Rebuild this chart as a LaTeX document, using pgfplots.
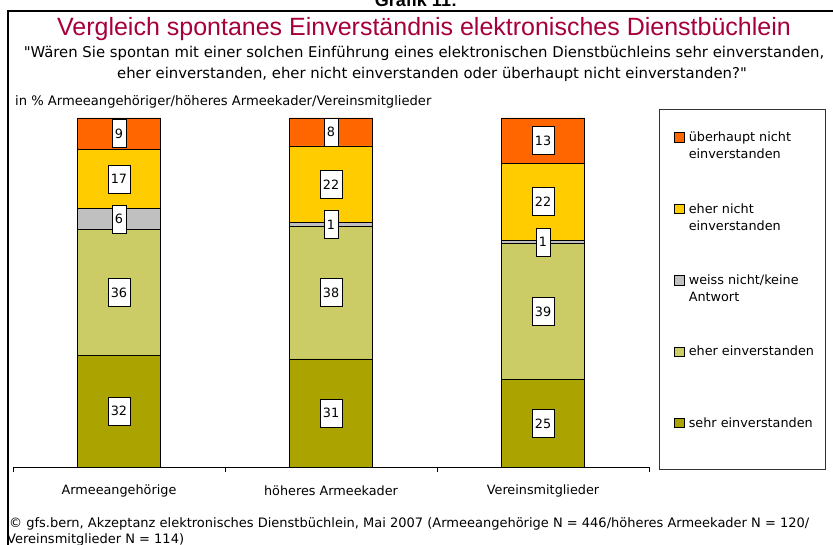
\documentclass[border=0pt]{standalone}
\usepackage{fontspec}
\setmainfont{DejaVu Sans}
\newfontfamily\arial{Liberation Sans}
\usepackage{pgfplots}
\usepackage{pgfplotstable}
\pgfplotsset{compat=1.18}

\definecolor{titlered}{RGB}{165,0,60}
\definecolor{sehr}{RGB}{170,163,0}
\definecolor{eher}{RGB}{204,204,102}
\definecolor{weiss}{RGB}{192,192,192}
\definecolor{ehernicht}{RGB}{255,204,0}
\definecolor{ueber}{RGB}{255,102,0}

% Anteile in %, von unten nach oben gestapelt
\pgfplotstableread{
x sehr eher weiss ehernicht ueberhaupt
0 32 36 6 17 9
1 31 38 1 22 8
2 25 39 1 22 13
}\data

\newcommand{\lab}{\fontsize{12.8}{17}\selectfont}
\newcommand{\two}[2]{\begin{tabular}[t]{@{}l@{}}#1\\#2\end{tabular}}
% gerades Anfuehrungszeichen ohne TeX-Ligatur
\newcommand{\sq}{\XeTeXglyph\XeTeXcharglyph"22\relax}

\begin{document}
\begin{tikzpicture}
\begin{scope}
\clip (0pt,0pt) rectangle (833pt,544pt);

\begin{axis}[
  at={(13pt,77pt)}, anchor=south west,
  scale only axis, width=636pt, height=349pt,
  xmin=-0.5, xmax=2.5, ymin=0, ymax=100,
  ybar stacked, bar width=83pt,
  axis y line=none, axis x line=bottom,
  x axis line style={-, black, line width=0.8pt},
  xtick={0,1,2},
  xticklabels={Armeeangehörige, höheres Armeekader, Vereinsmitglieder},
  major tick length=0pt,
  extra x ticks={-0.5,0.5,1.5,2.5}, extra x tick labels={},
  extra x tick style={major tick length=5pt, tick align=outside,
    tick style={black, line width=0.8pt}},
  xticklabel style={font=\lab, anchor=center, yshift=-24pt},
  point meta=explicit symbolic,
  nodes near coords={\pgfplotspointmeta},
  every node near coord/.append style={anchor=center, fill=white, draw=black,
    text=black, line width=0.6pt, font=\lab, inner xsep=3pt, inner ysep=0pt,
    minimum height=28pt},
  legend image code/.code={\draw[#1] (0pt,-0.5pt) rectangle (9.5pt,9pt);},
  reverse legend,
  legend style={draw=none, fill=none, at={(1.0393,0.9668)}, anchor=north west,
    inner sep=0pt, row sep=58pt, column sep=4.5pt,
    cells={anchor=base west}, nodes={inner sep=0pt}, font=\lab},
]
\addplot+[fill=sehr, draw=black, line width=0.6pt] table[x=x, y=sehr, meta=sehr] {\data};
\addlegendentry{\two{sehr einverstanden}{\mbox{}}}
\addplot+[fill=eher, draw=black, line width=0.6pt] table[x=x, y=eher, meta=eher] {\data};
\addlegendentry{\two{eher einverstanden}{\mbox{}}}
\addplot+[fill=weiss, draw=black, line width=0.6pt] table[x=x, y=weiss, meta=weiss] {\data};
\addlegendentry{\two{weiss nicht/keine}{Antwort}}
\addplot+[fill=ehernicht, draw=black, line width=0.6pt] table[x=x, y=ehernicht, meta=ehernicht] {\data};
\addlegendentry{\two{eher nicht}{einverstanden}}
\addplot+[fill=ueber, draw=black, line width=0.6pt] table[x=x, y=ueberhaupt, meta=ueberhaupt] {\data};
\addlegendentry{\two{überhaupt nicht}{einverstanden}}
\end{axis}

% Rahmen
\draw[line width=2pt] (8pt,-5pt) -- (8pt,533pt) -- (840pt,533pt);
\draw[line width=0.8pt, black!80] (659pt,75pt) rectangle (825pt,435pt);

% Texte
\node[font=\arial\bfseries\fontsize{18}{20}\selectfont, anchor=base] at (416pt,537pt) {Grafik 11:};
\node[font=\arial\fontsize{25}{28}\selectfont, text=titlered, anchor=base] at (424pt,508pt)
  {Vergleich spontanes Einverständnis elektronisches Dienstbüchlein};
\node[font=\fontsize{14.85}{21}\selectfont, anchor=base] at (424pt,486pt)
  {\sq Wären Sie spontan mit einer solchen Einführung eines elektronischen Dienstbüchleins sehr einverstanden,};
\node[font=\fontsize{14.85}{21}\selectfont, anchor=base] at (432pt,465pt)
  {eher einverstanden, eher nicht einverstanden oder überhaupt nicht einverstanden?\sq};
\node[font=\fontsize{13.1}{17}\selectfont, anchor=base west, inner sep=0pt] at (15pt,438pt)
  {in \% Armeeangehöriger/höheres Armeekader/Vereinsmitglieder};
\node[font=\fontsize{13}{16}\selectfont, anchor=base west, inner sep=0pt] at (9pt,16.5pt)
  {© gfs.bern, Akzeptanz elektronisches Dienstbüchlein, Mai 2007 (Armeeangehörige N = 446/höheres Armeekader N = 120/};
\node[font=\fontsize{13}{16}\selectfont, anchor=base west, inner sep=0pt] at (7pt,0.5pt)
  {Vereinsmitglieder N = 114)};
\end{scope}
\pgfresetboundingbox
\path[use as bounding box] (0pt,0pt) rectangle (833pt,544pt);
\end{tikzpicture}
\end{document}
